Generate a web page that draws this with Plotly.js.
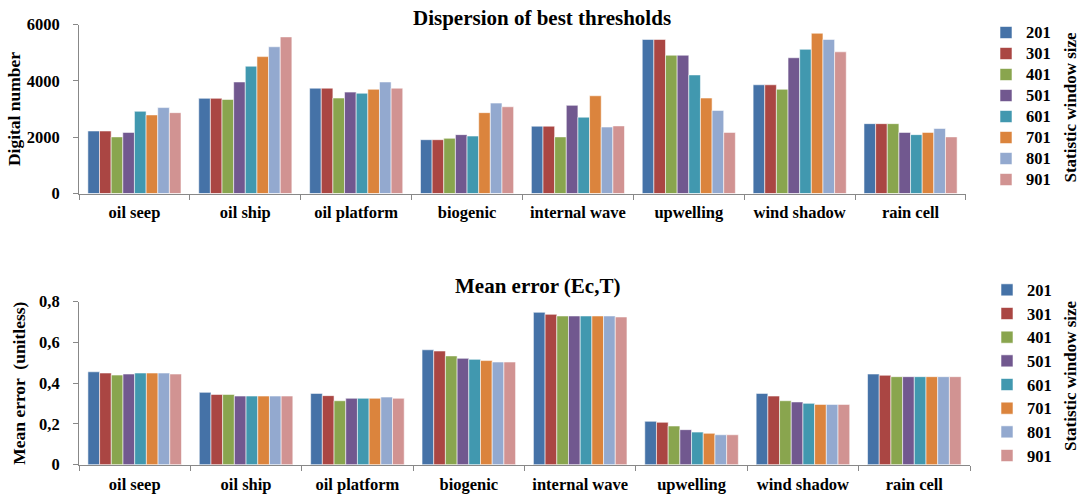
<!DOCTYPE html>
<html>
<head>
<meta charset="utf-8">
<script src="https://cdn.plot.ly/plotly-3.0.1.min.js"></script>
<style>html,body{margin:0;padding:0;background:#fff;}#chart{width:1081px;height:497px;}</style>
</head>
<body>
<div id="chart"></div>
<script>
const categories = ['oil seep','oil ship','oil platform','biogenic','internal wave','upwelling','wind shadow','rain cell'];
const windowSizes = ['201','301','401','501','601','701','801','901'];
const colors = ['#4572A7','#AA4643','#89A54E','#71588F','#4198AF','#DB843D','#93A9CF','#D19392'];

// Dispersion of best thresholds (digital number), one array per window size
const disp201 = [2220,3380,3740,1910,2390,5470,3860,2480];
const disp301 = [2220,3380,3740,1910,2390,5470,3860,2480];
const disp401 = [2010,3340,3390,1960,2010,4910,3700,2480];
const disp501 = [2170,3960,3600,2090,3130,4910,4820,2170];
const disp601 = [2920,4520,3560,2040,2710,4210,5120,2090];
const disp701 = [2790,4860,3700,2870,3470,3390,5690,2170];
const disp801 = [3050,5210,3960,3210,2360,2950,5470,2310];
const disp901 = [2870,5560,3740,3080,2400,2170,5030,2010];

// Mean error (Ec,T), one array per window size
const err201 = [0.456,0.355,0.350,0.564,0.748,0.213,0.350,0.445];
const err301 = [0.450,0.345,0.339,0.558,0.738,0.208,0.337,0.439];
const err401 = [0.440,0.345,0.314,0.534,0.730,0.190,0.314,0.432];
const err501 = [0.445,0.337,0.326,0.522,0.730,0.172,0.308,0.432];
const err601 = [0.450,0.337,0.326,0.517,0.730,0.160,0.301,0.432];
const err701 = [0.450,0.337,0.326,0.511,0.730,0.154,0.296,0.432];
const err801 = [0.450,0.337,0.332,0.504,0.730,0.147,0.296,0.432];
const err901 = [0.445,0.337,0.326,0.504,0.725,0.147,0.296,0.432];

const dispSeries = [disp201,disp301,disp401,disp501,disp601,disp701,disp801,disp901];
const errSeries = [err201,err301,err401,err501,err601,err701,err801,err901];

const FONT = 'Liberation Serif, Times New Roman, serif';
const W = 1081, H = 497;

function legendLabel(name) { return '<span style="font-size:16.5px">' + name + '</span>'; }

const traces = [];
windowSizes.forEach((name, i) => {
  traces.push({
    type: 'bar', x: categories, y: dispSeries[i], name: legendLabel(name),
    xaxis: 'x', yaxis: 'y', legend: 'legend',
    marker: {color: colors[i], line: {color: 'rgba(255,255,255,0.7)', width: 0.8}},
    hovertemplate: '%{x}<br>' + name + ': %{y}<extra></extra>'
  });
});
windowSizes.forEach((name, i) => {
  traces.push({
    type: 'bar', x: categories, y: errSeries[i], name: legendLabel(name),
    xaxis: 'x2', yaxis: 'y2', legend: 'legend2',
    marker: {color: colors[i], line: {color: 'rgba(255,255,255,0.7)', width: 0.8}},
    hovertemplate: '%{x}<br>' + name + ': %{y}<extra></extra>'
  });
});

const tickFont = {family: FONT, size: 16.5, color: '#000', weight: 'bold'};
const titleFont = {family: FONT, size: 17.5, color: '#000', weight: 'bold'};

function xAx(domain, anchor) {
  return {
    domain: domain, anchor: anchor, type: 'category',
    showline: true, linecolor: '#888', linewidth: 1,
    ticks: 'outside', tickson: 'boundaries', ticklen: 5, tickcolor: '#888',
    showgrid: false, zeroline: false, tickfont: tickFont, ticklabelstandoff: 4,
    fixedrange: true
  };
}
function yAx(domain, anchor, range, dtick, title, standoff) {
  return {
    domain: domain, anchor: anchor, range: range, dtick: dtick, tick0: 0,
    showline: true, linecolor: '#888', linewidth: 1,
    ticks: 'outside', ticklen: 5, tickcolor: '#888',
    showgrid: false, zeroline: false, tickfont: tickFont, ticklabelstandoff: 10,
    title: {text: title, font: titleFont, standoff: standoff},
    fixedrange: true
  };
}

const legendCommon = {
  xref: 'container', yref: 'container', xanchor: 'left', yanchor: 'top',
  bgcolor: 'rgba(0,0,0,0)', borderwidth: 0, traceorder: 'normal',
  itemclick: false, itemdoubleclick: false
};

const layout = {
  width: W, height: H,
  margin: {l: 79, r: 111, t: 0, b: 0},
  paper_bgcolor: '#fff', plot_bgcolor: '#fff',
  separators: ',.',
  barmode: 'group', bargap: 0.16, bargroupgap: 0,
  showlegend: true,
  xaxis: xAx([0, 0.9955], 'y'),
  yaxis: yAx([(H - 193.5) / H, (H - 24.5) / H], 'x', [0, 6000], 2000, 'Digital number', 1),
  xaxis2: xAx([0, 1], 'y2'),
  yaxis2: yAx([(H - 464.7) / H, (H - 301.7) / H], 'x2', [0, 0.8], 0.2, 'Mean error  (unitless)', 8),
  legend: Object.assign({}, legendCommon, {
    x: 986 / W, y: 1 - 17 / H,
    font: {family: FONT, size: 13.85, color: '#000', weight: 'bold'}
  }),
  legend2: Object.assign({}, legendCommon, {
    x: 987 / W, y: 1 - 273 / H,
    font: {family: FONT, size: 15.9, color: '#000', weight: 'bold'}
  }),
  annotations: [
    {text: 'Dispersion of best thresholds', xref: 'paper', yref: 'paper', x: (541.5 - 79) / 891, y: 1 - 18.5 / H,
     xanchor: 'center', yanchor: 'middle', showarrow: false,
     font: {family: FONT, size: 21, color: '#000', weight: 'bold'}},
    {text: 'Mean error (Ec,T)', xref: 'paper', yref: 'paper', x: (537.5 - 79) / 891, y: 1 - 286 / H,
     xanchor: 'center', yanchor: 'middle', showarrow: false,
     font: {family: FONT, size: 21, color: '#000', weight: 'bold'}},
    {text: 'Statistic window size', xref: 'paper', yref: 'paper', x: (1070 - 79) / 891, y: 1 - 107.5 / H,
     xanchor: 'center', yanchor: 'middle', textangle: -90, showarrow: false,
     font: {family: FONT, size: 17, color: '#000', weight: 'bold'}},
    {text: 'Statistic window size', xref: 'paper', yref: 'paper', x: (1070 - 79) / 891, y: 1 - 376 / H,
     xanchor: 'center', yanchor: 'middle', textangle: -90, showarrow: false,
     font: {family: FONT, size: 17, color: '#000', weight: 'bold'}}
  ]
};

Plotly.newPlot('chart', traces, layout, {displayModeBar: false, responsive: false});
</script>
</body>
</html>
